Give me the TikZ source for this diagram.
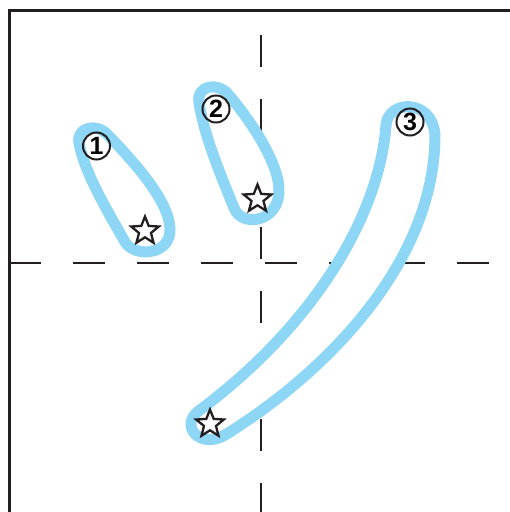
\documentclass[tikz,border=0pt]{standalone}
\usepackage{fontspec}
\setsansfont{Liberation Sans}
\usepackage{tikz}
\usetikzlibrary{shapes.geometric}
\definecolor{ink}{RGB}{35,31,32}
\definecolor{sky}{RGB}{141,214,245}
\tikzset{
  frame/.style={draw=ink,line width=3pt,line join=miter},
  guide/.style={draw=ink,line width=2.8pt,dash pattern=on 32pt off 32pt},
  ring/.style={draw=sky,fill=white,line width=11pt},
  num/.style={draw=ink,circle,line width=2pt,minimum size=27pt,inner sep=0pt,
    font=\sffamily\bfseries\fontsize{25}{25}\selectfont},
  endmark/.style={draw=ink,fill=white,star,star points=5,star point ratio=2.3,
    minimum size=29pt,inner sep=0pt,line width=2.3pt,line join=miter},
}

\begin{document}
\begin{tikzpicture}[x=1pt,y=-1pt]
  \useasboundingbox (0,0) rectangle (510,512);
  \clip (0,0) rectangle (510,512);
  % frame and guide lines
  \draw[frame] (9,530) -- (9,10) -- (530,10);
  \draw[guide] (9,263) -- (520,263);
  \draw[guide] (261,35) -- (261,530);
  % the three strokes
  \draw[ring] (79,143) .. controls (76,128) and (96,122) .. (108,135)
    .. controls (130,158) and (170,200) .. (170,230)
    .. controls (170,255) and (135,258) .. (125,242)
    .. controls (110,215) and (85,175) .. cycle;
  \draw[ring] (199,103) .. controls (196,85) and (218,82) .. (228,94)
    .. controls (252,122) and (280,165) .. (279,192)
    .. controls (278,222) and (242,228) .. (234,208)
    .. controls (225,185) and (205,140) .. cycle;
  \draw[ring] (386,125) .. controls (388,100) and (432,98) .. (435,135)
    .. controls (435,260) and (330,370) .. (225,435)
    .. controls (200,450) and (178,425) .. (200,410)
    .. controls (320,320) and (380,210) .. cycle;
  % order numbers and end marks
  \node[num] (n1) at (96.5,146) {1};
  \node[num] (n2) at (216,109) {2};
  \node[num] (n3) at (410,122) {3};
  \node[endmark] (s1) at (145,231) {};
  \node[endmark] (s2) at (257.5,199) {};
  \node[endmark] (s3) at (210,424) {};
\end{tikzpicture}
\end{document}
